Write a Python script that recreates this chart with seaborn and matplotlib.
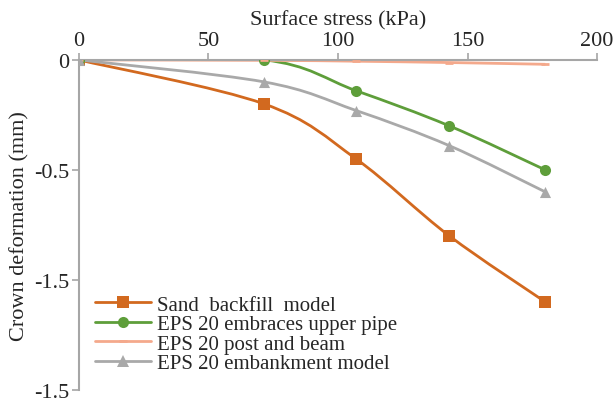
import numpy as np
import matplotlib
matplotlib.use("Agg")
import matplotlib.pyplot as plt
import seaborn as sns
from matplotlib.path import Path
from matplotlib.patches import PathPatch
from matplotlib.lines import Line2D

# data
stress = [0, 71.5, 107, 143, 180]
sand = [0, -0.20, -0.45, -0.80, -1.10]
eps_pipe = [0, 0.0, -0.14, -0.30, -0.50]
eps_post = [0, -0.002, -0.006, -0.012, -0.02]
eps_emb = [0, -0.10, -0.23, -0.39, -0.60]

labels = ["Sand  backfill  model", "EPS 20 embraces upper pipe",
          "EPS 20 post and beam", "EPS 20 embankment model"]
colors = ["#D2691F", "#5E9E3A", "#F4A98C", "#A9A9A9"]
markers = ["s", "o", "_", "^"]
msizes = [8, 8, 6, 8]
yticks = [0, -0.5, -1, -1.5]
ytick_labels = ["0", "-0.5", "-1.5", "-1.5"]

sns.set_style("white")
plt.rcParams["font.family"] = ["Liberation Serif", "DejaVu Serif"]

fig = plt.figure(figsize=(6.15, 4.06), dpi=100)
ax = fig.add_axes([0.128, 0.037, 0.843, 0.813])


def smooth_path(x, y, t=1 / 6):
    # Catmull-Rom style bezier through the points (like Excel's smoothed line)
    x = np.asarray(x, float)
    y = np.asarray(y, float)
    verts = [(x[0], y[0])]
    codes = [Path.MOVETO]
    n = len(x)
    for i in range(n - 1):
        p0 = i - 1 if i > 0 else i
        p3 = i + 2 if i + 2 < n else i + 1
        c1 = (x[i] + (x[i + 1] - x[p0]) * t, y[i] + (y[i + 1] - y[p0]) * t)
        c2 = (x[i + 1] - (x[p3] - x[i]) * t, y[i + 1] - (y[p3] - y[i]) * t)
        verts += [c1, c2, (x[i + 1], y[i + 1])]
        codes += [Path.CURVE4] * 3
    return Path(verts, codes)


series = [sand, eps_pipe, eps_post, eps_emb]
handles = []
for vals, lab, c, m, ms in zip(series, labels, colors, markers, msizes):
    ax.add_patch(PathPatch(smooth_path(stress, vals), fill=False,
                           edgecolor=c, lw=2, zorder=2))
    sns.scatterplot(x=stress, y=vals, marker=m, s=ms ** 2, color=c,
                    edgecolor=c if m != "_" else None, linewidth=2 if m == "_" else 0,
                    ax=ax, zorder=3, legend=False)
    handles.append(Line2D([], [], color=c, lw=2, marker=m, markersize=ms,
                          markeredgewidth=2 if m == "_" else 0))

ax.set_xlim(0, 200)
ax.set_ylim(-1.5, 0)
ax.xaxis.tick_top()
ax.xaxis.set_label_position("top")
ax.set_xticks([0, 50, 100, 150, 200])
ax.set_yticks(yticks)
ax.set_yticklabels(ytick_labels)
ax.set_xlabel("Surface stress (kPa)", fontsize=16, labelpad=5)
ax.set_ylabel("Crown deformation (mm)", fontsize=16, labelpad=3)
ax.tick_params(axis="both", labelsize=16, length=5, color="#A6A6A6",
               direction="out", pad=2, width=1.2)
ax.tick_params(axis="x", top=True, bottom=False)
ax.tick_params(axis="y", left=True)

for side in ["right", "bottom"]:
    ax.spines[side].set_visible(False)
for side in ["top", "left"]:
    ax.spines[side].set_color("#A6A6A6")
    ax.spines[side].set_linewidth(1.5)
ax.grid(False)

ax.legend(handles, labels, loc="lower left", bbox_to_anchor=(0.0, 0.0),
          frameon=False, fontsize=15, handlelength=2.65, handletextpad=0.3,
          labelspacing=0.0, borderaxespad=0.4)

fig.savefig("out.png", dpi=100)
